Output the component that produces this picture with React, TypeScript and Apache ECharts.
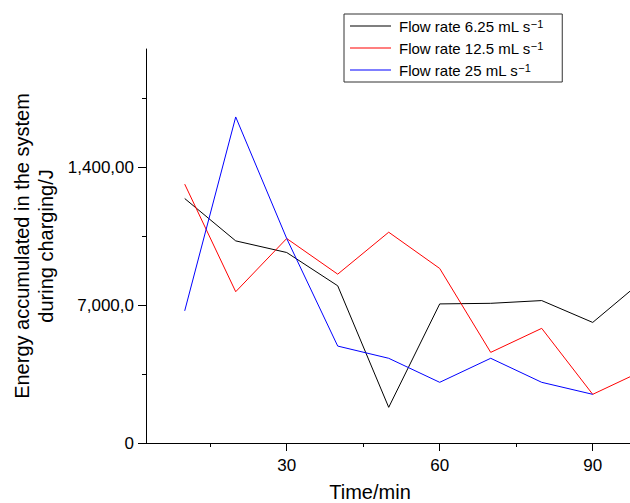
import React, { useEffect, useRef } from "react";
import * as echarts from "echarts";

const timeMin = [10, 20, 30, 40, 50, 60, 70, 80, 90, 100];
const flow625 = [12410, 10260, 9670, 7980, 1810, 7060, 7090, 7230, 6120, 8290];
const flow125 = [13140, 7680, 10380, 8570, 10700, 8860, 4600, 5820, 2470, 3690];
const flow25 = [6710, 16550, 10380, 4920, 4300, 3080, 4300, 3080, 2470];

const seriesNames = ["Flow rate 6.25 mL s", "Flow rate 12.5 mL s", "Flow rate 25 mL s"];
const seriesColors = ["#000000", "#ff0000", "#0000ff"];

const xMajorTicks = [30, 60, 90];
const xMinorTicks = [15, 45, 75];
const yMajorTicks = [0, 7000, 14000];
const yMinorTicks = [3500, 10500, 17500];
const yTickLabels = ["0", "7,000,0", "1,400,00"];

const FONT = "Liberation Sans, Arial, sans-serif";

export default function App() {
  const ref = useRef<HTMLDivElement>(null);
  useEffect(() => {
    if (!ref.current) return;
    const chart = echarts.init(ref.current, null, { renderer: "svg" });
    const xMin = 2.41;
    const xMax = 97.31;
    const seriesData = [flow625, flow125, flow25];
    const axisLineStyle = { color: "#000", width: 1 };
    chart.setOption({
      animation: false,
      backgroundColor: "#ffffff",
      grid: { left: 146, top: 49, right: 0, bottom: 60, outerBoundsMode: "none" },
      xAxis: [
        {
          type: "value",
          position: "bottom",
          min: xMin,
          max: xMax,
          axisLine: { show: true, onZero: false, lineStyle: axisLineStyle },
          axisTick: { show: true, customValues: xMajorTicks, length: 8, lineStyle: axisLineStyle },
          axisLabel: {
            customValues: xMajorTicks,
            fontSize: 17,
            color: "#000",
            fontFamily: FONT,
            margin: 14,
          },
          splitLine: { show: false },
        },
        {
          type: "value",
          position: "bottom",
          min: xMin,
          max: xMax,
          axisLine: { show: false },
          axisTick: { show: true, customValues: xMinorTicks, length: 4, lineStyle: axisLineStyle },
          axisLabel: { show: false },
          splitLine: { show: false },
        },
      ],
      yAxis: [
        {
          type: "value",
          position: "left",
          min: 0,
          max: 20000,
          axisLine: { show: true, onZero: false, lineStyle: axisLineStyle },
          axisTick: { show: true, customValues: yMajorTicks, length: 8, lineStyle: axisLineStyle },
          axisLabel: {
            customValues: yMajorTicks,
            fontSize: 17,
            color: "#000",
            fontFamily: FONT,
            margin: 12,
            formatter: (v: number) => {
              const i = yMajorTicks.indexOf(v);
              return i >= 0 ? yTickLabels[i] : "";
            },
          },
          splitLine: { show: false },
        },
        {
          type: "value",
          position: "left",
          min: 0,
          max: 20000,
          axisLine: { show: false },
          axisTick: { show: true, customValues: yMinorTicks, length: 4, lineStyle: axisLineStyle },
          axisLabel: { show: false },
          splitLine: { show: false },
        },
      ],
      legend: {
        orient: "vertical",
        left: 344,
        top: 14,
        icon: "rect",
        itemWidth: 41,
        itemHeight: 1,
        itemGap: 6,
        padding: [4, 19, 4, 6],
        borderColor: "#333",
        borderWidth: 1,
        data: seriesNames,
        formatter: (name: string) => name + "{sup|−1}",
        textStyle: {
          fontSize: 15,
          lineHeight: 16,
          fontFamily: FONT,
          color: "#000",
          padding: [0, 0, 0, 3],
          rich: {
            sup: { fontSize: 11, lineHeight: 11, verticalAlign: "top", fontFamily: FONT, color: "#000" },
          },
        },
      },
      series: seriesNames.map((name, si) => ({
        name,
        type: "line",
        xAxisIndex: 0,
        yAxisIndex: 0,
        symbol: "none",
        clip: true,
        color: seriesColors[si],
        lineStyle: { color: seriesColors[si], width: 1 },
        data: seriesData[si].map((v, i) => [timeMin[i], v]),
      })),
      graphic: [
        {
          type: "text",
          x: 34,
          y: 246,
          rotation: Math.PI / 2,
          style: {
            text: "Energy accumulated in the system\nduring charging/J",
            fontSize: 20,
            lineHeight: 24,
            fontFamily: FONT,
            fill: "#000",
            align: "center",
            verticalAlign: "middle",
          },
        },
        {
          type: "text",
          x: 370,
          y: 492,
          style: {
            text: "Time/min",
            fontSize: 20,
            fontFamily: FONT,
            fill: "#000",
            align: "center",
            verticalAlign: "middle",
          },
        },
      ],
    });
    return () => chart.dispose();
  }, []);
  return (
    <div style={{ position: "fixed", left: 0, top: 0, width: 630, height: 503, overflow: "hidden", background: "#fff" }}>
      <div ref={ref} style={{ width: 630, height: 503 }} />
    </div>
  );
}
